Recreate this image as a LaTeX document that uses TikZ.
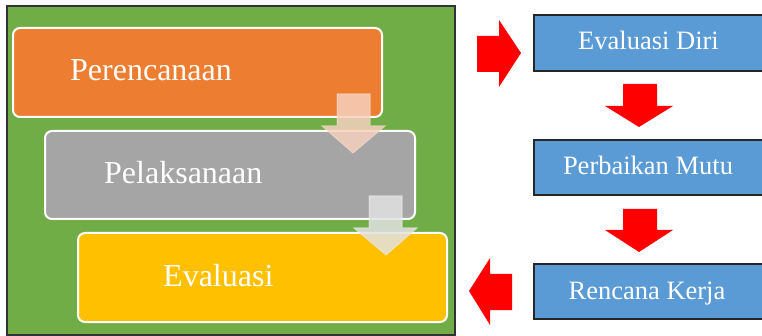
\documentclass[tikz,border=0pt]{standalone}
\usepackage{fontspec}
\setmainfont{Liberation Serif}
\definecolor{cgreen}{HTML}{70AD47}
\definecolor{corange}{HTML}{ED7D31}
\definecolor{cgray}{HTML}{A5A5A5}
\definecolor{cyellow}{HTML}{FFC000}
\definecolor{cblue}{HTML}{5B9BD5}
\definecolor{cpeach}{HTML}{F6D0BE}
\definecolor{cpale}{HTML}{E2E2E2}
\tikzset{
  stagebox/.style={draw=white, line width=2pt, rounded corners=7pt, inner sep=0pt},
  stagetext/.style={text=white, font=\fontsize{32}{34}\selectfont, anchor=base west, inner sep=0pt},
  bluebox/.style={draw=black!85, line width=1.5pt, fill=cblue, inner sep=0pt},
  bluetext/.style={text=white, font=\fontsize{26.5}{28}\selectfont, anchor=base, inner sep=0pt},
  redarrow/.style={fill=red, draw=none},
  softarrow/.style={line width=1pt, fill opacity=0.85, draw opacity=0.6},
}
\begin{document}
\begin{tikzpicture}[x=1pt,y=-1pt]
\useasboundingbox (0,0) rectangle (762,336);
% green background
\node[draw=black!80, line width=1.5pt, fill=cgreen, minimum width=448pt, minimum height=329pt, inner sep=0pt] (bg) at (231,170.5) {};
% stage boxes
\node[stagebox, fill=corange, minimum width=369pt, minimum height=89pt] (plan) at (197.5,72.5) {};
\node[stagebox, fill=cgray, minimum width=370pt, minimum height=88pt] (exec) at (230,175) {};
\node[stagebox, fill=cyellow, minimum width=369pt, minimum height=89pt] (eval) at (262.5,277.5) {};
\node[stagetext] (plant) at (70,81) {Perencanaan};
\node[stagetext] (exect) at (104,184) {Pelaksanaan};
\node[stagetext] (evalt) at (163,287) {Evaluasi};
% soft arrows
\draw[softarrow, fill=cpeach, draw=cpeach!70!white] (337,94) -- (370,94) -- (370,126) -- (385,126) -- (353,153) -- (322,126) -- (337,126) -- cycle;
\draw[softarrow, fill=cpale, draw=cpale!70!white] (369,196) -- (402,196) -- (402,228) -- (417,228) -- (386,255) -- (354,228) -- (369,228) -- cycle;
% blue boxes
\node[bluebox, minimum width=230pt, minimum height=56pt] (self) at (649,43) {};
\node[bluebox, minimum width=230pt, minimum height=55pt] (qual) at (649,167.5) {};
\node[bluebox, minimum width=230pt, minimum height=55pt] (work) at (649,291.5) {};
\node[bluetext] (selft) at (648.5,50) {Evaluasi Diri};
\node[bluetext] (qualt) at (648,175) {Perbaikan Mutu};
\node[bluetext] (workt) at (647,299) {Rencana Kerja};
% red arrows
\fill[redarrow] (477,36) -- (499,36) -- (499,20) -- (521,53) -- (499,87) -- (499,72) -- (477,72) -- cycle;
\fill[redarrow] (623,84) -- (657,84) -- (657,106) -- (673,106) -- (639,127) -- (605,106) -- (623,106) -- cycle;
\fill[redarrow] (623,209) -- (657,209) -- (657,230) -- (673,230) -- (639,252) -- (605,230) -- (623,230) -- cycle;
\fill[redarrow] (512,274) -- (490,274) -- (490,258) -- (469,291) -- (490,325) -- (490,310) -- (512,310) -- cycle;
\end{tikzpicture}
\end{document}
